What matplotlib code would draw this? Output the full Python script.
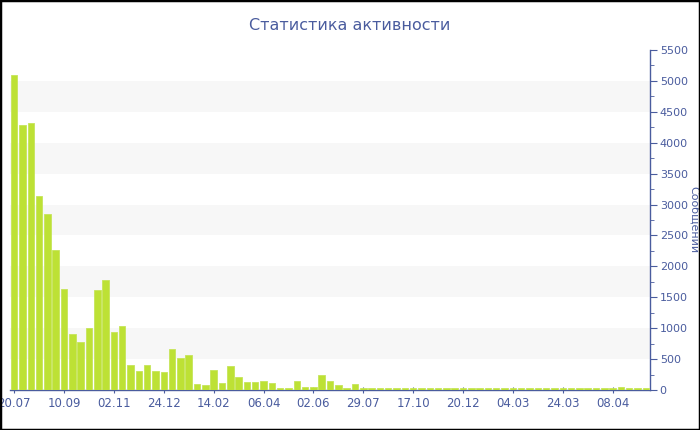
import matplotlib
matplotlib.use("Agg")
import matplotlib.pyplot as plt
from matplotlib.ticker import MultipleLocator
from matplotlib.patches import Rectangle

title = "Статистика активности"
ylabel = "Сообщений"

values = [5100, 4280, 4320, 3140, 2840, 2260, 1640, 914, 780, 1005,
          1613, 1780, 941, 1032, 409, 301, 398, 306, 296, 661,
          516, 565, 97, 75, 323, 118, 387, 210, 134, 134,
          145, 108, 40, 40, 140, 48, 48, 237, 140, 75,
          40, 97, 30, 30, 35, 40, 30, 35, 40, 40,
          30, 30, 35, 35, 30, 40, 35, 25, 25, 25,
          30, 25, 25, 25, 25, 40, 35, 40, 35, 30,
          30, 30, 30, 50, 25, 30, 40]

tick_labels = ["20.07", "10.09", "02.11", "24.12", "14.02", "06.04", "02.06",
               "29.07", "17.10", "20.12", "04.03", "24.03", "08.04"]
tick_step = 6

blue = "#4a5c9e"
bar_color = "#bde135"

fig = plt.figure(figsize=(7, 4.3), dpi=100)
ax = fig.add_axes([0.0143, 0.093, 0.9143, 0.7907])

for lo in range(500, 5500, 1000):
    ax.axhspan(lo, lo + 500, color="#f7f7f7", zorder=0, lw=0)

x = list(range(len(values)))
ax.bar(x, values, width=0.78, color=bar_color, edgecolor="#c6e55a", linewidth=0.6, zorder=3)

ax.set_xlim(-0.5, len(values) - 0.5)
ax.set_ylim(0, 5500)

ax.set_xticks([i * tick_step for i in range(len(tick_labels))])
ax.set_xticklabels(tick_labels)
ax.tick_params(axis="x", colors=blue, labelsize=8.5, length=4, direction="inout", pad=3)

ax.yaxis.tick_right()
ax.yaxis.set_label_position("right")
ax.yaxis.set_major_locator(MultipleLocator(500))
ax.yaxis.set_minor_locator(MultipleLocator(250))
ax.tick_params(axis="y", which="both", colors=blue, labelsize=8, pad=2)
ax.tick_params(axis="y", which="major", length=5)
ax.tick_params(axis="y", which="minor", length=3)
ax.set_ylabel(ylabel, rotation=270, color=blue, fontsize=8, va="center", ha="center")
ax.yaxis.set_label_coords(1.069, 0.5)

for s in ["top", "left"]:
    ax.spines[s].set_visible(False)
for s in ["right", "bottom"]:
    ax.spines[s].set_color(blue)
    ax.spines[s].set_linewidth(1)
    ax.spines[s].set_zorder(2)

fig.text(0.5, 0.94, title, ha="center", va="center", color=blue, fontsize=11.5)

fig.patches.append(Rectangle((0, 0), 1, 1, transform=fig.transFigure, fill=False,
                             edgecolor="black", linewidth=2.5, zorder=10))

fig.savefig("out.png", dpi=100)
